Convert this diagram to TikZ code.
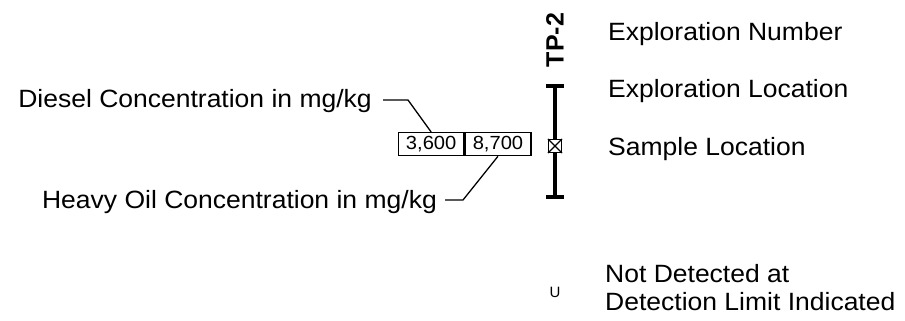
\documentclass[tikz,border=0pt]{standalone}
\usepackage{fontspec}
\setmainfont{Liberation Sans}
\newcommand{\wid}[1]{\scalebox{1.06}[1]{#1}}
\begin{document}
\begin{tikzpicture}[x=1pt,y=-1pt,
  lbl/.style={inner sep=0pt,font=\fontsize{25}{28}\selectfont},
  val/.style={draw,line width=1.3pt,minimum height=23pt,inner sep=0pt,font=\fontsize{19}{21}\selectfont},
  lead/.style={line width=1.3pt},
  bar/.style={line width=3.5pt}]
\useasboundingbox (0,0) rectangle (905,321);
% left labels
\node[lbl,anchor=base east] (diesel) at (372,107) {\wid{Diesel Concentration in mg/kg}};
\node[lbl,anchor=base east] (heavy) at (437,208) {\wid{Heavy Oil Concentration in mg/kg}};
% value boxes
\node[val,minimum width=65pt,anchor=north west] (c1) at (398,132) {\wid{3,600}};
\node[val,minimum width=66pt,anchor=north west] (c2) at (c1.north east) {\wid{8,700}};
% leaders
\coordinate (d1) at (383,100);
\coordinate (d2) at (408,100);
\draw[lead] (d1) -- (d2) -- (c1.north);
\coordinate (h1) at (445,200);
\coordinate (h2) at (463,200);
\draw[lead] (c2.south) -- (h2) -- (h1);
% exploration symbol
\node[inner sep=0pt,rotate=90,font=\fontsize{25}{28}\selectfont\bfseries] (tp) at (555,40) {TP-2};
\coordinate (top) at (555,86);
\coordinate (bot) at (555,197);
\draw[bar] (top) -- (bot);
\draw[bar] (546,86) -- (564,86);
\draw[bar] (546,197) -- (564,197);
\node[draw,fill=white,line width=1.2pt,minimum size=13pt,inner sep=0pt] (smp) at (555,146) {};
\draw[line width=1.1pt] (smp.north west) -- (smp.south east) (smp.north east) -- (smp.south west);
% right labels
\node[lbl,anchor=base west] (en) at (608,41) {\wid{Exploration Number}};
\node[lbl,anchor=base west] (el) at (608,97) {\wid{Exploration Location}};
\node[lbl,anchor=base west] (sl) at (608,155) {\wid{Sample Location}};
\node[inner sep=0pt,anchor=base,font=\fontsize{15}{17}\selectfont] (u) at (555,297) {U};
\node[lbl,anchor=base west] (nd1) at (605,282) {\wid{Not Detected at}};
\node[lbl,anchor=base west] (nd2) at (605,310) {\wid{Detection Limit Indicated}};
\end{tikzpicture}
\end{document}
